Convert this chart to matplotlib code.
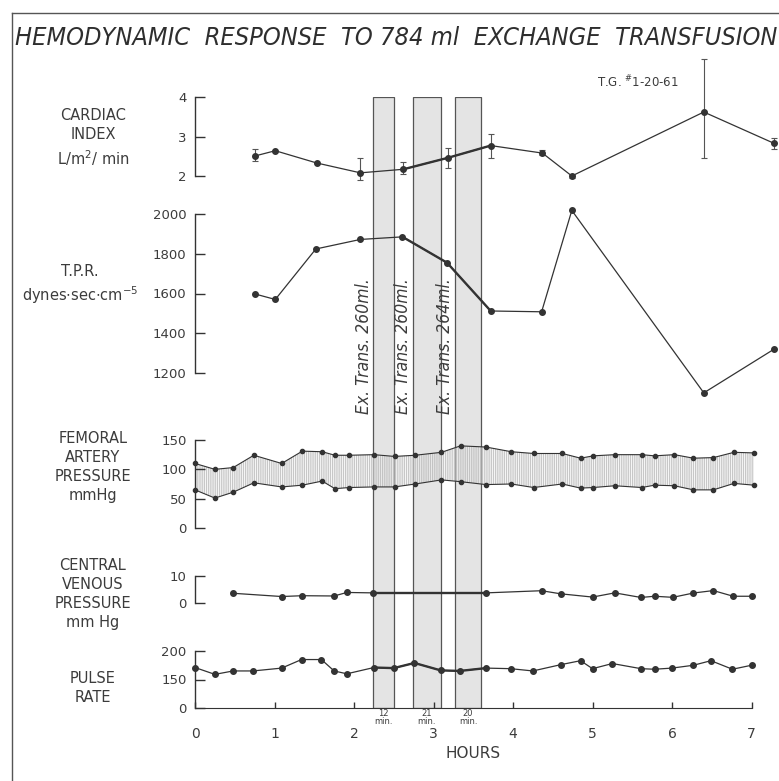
import numpy as np
from matplotlib import pyplot as plt
from matplotlib import font_manager
from matplotlib.lines import Line2D

W, H = 779, 781
AX_LEFT = 195        # px, left spine of every panel
INK = "#333333"
TXT = "#3c3c3c"

installed = {f.name for f in font_manager.fontManager.ttflist}
NARROW = "Liberation Sans Narrow" if "Liberation Sans Narrow" in installed else "DejaVu Sans"

# exchange periods (hours) and their durations
ex_start = [2.24, 2.74, 3.27]
ex_end = [2.50, 3.09, 3.60]
ex_labels = ["Ex. Trans. 260ml.", "Ex. Trans. 260ml.", "Ex. Trans. 264ml."]
ex_minutes = ["12\nmin.", "21\nmin.", "20\nmin."]

# cardiac index, L/m2/min
ci_hours = [0.76, 1.01, 1.53, 2.08, 2.62, 3.18, 3.72, 4.37, 4.74, 6.40, 7.28]
ci_vals = [2.51, 2.64, 2.33, 2.08, 2.17, 2.46, 2.77, 2.58, 2.00, 3.62, 2.83]
ci_lo = [2.37, 2.64, 2.33, 1.91, 2.06, 2.19, 2.45, 2.52, 1.96, 2.46, 2.68]
ci_hi = [2.69, 2.64, 2.33, 2.46, 2.35, 2.71, 3.06, 2.65, 2.03, 4.95, 2.97]

# total peripheral resistance
tpr_hours = [0.76, 1.01, 1.52, 2.08, 2.61, 3.17, 3.72, 4.36, 4.74, 6.40, 7.28]
tpr_vals = [1597, 1570, 1824, 1872, 1885, 1755, 1512, 1508, 2018, 1100, 1319]

# femoral artery pressure, systolic / diastolic
fem_hours = [0, 0.25, 0.48, 0.74, 1.09, 1.35, 1.60, 1.76, 1.94, 2.25, 2.51, 2.77, 3.10, 3.34,
             3.66, 3.98, 4.26, 4.62, 4.85, 5.01, 5.28, 5.62, 5.78, 6.03, 6.27, 6.52, 6.78, 7.03]
fem_sys = [110, 100, 103, 124, 110, 131, 130, 124, 124, 125, 122, 124, 129, 140,
           138, 130, 127, 127, 119, 123, 125, 125, 123, 125, 119, 120, 129, 128]
fem_dia = [65, 51, 61, 77, 70, 73, 80, 67, 69, 70, 70, 75, 82, 79,
           74, 75, 69, 75, 68, 69, 72, 69, 73, 72, 65, 65, 76, 73]

# central venous pressure
cvp_hours = [0.48, 1.09, 1.35, 1.75, 1.91, 2.24, 3.66, 4.36, 4.60, 5.00, 5.28, 5.61, 5.78,
             6.01, 6.27, 6.52, 6.77, 7.00]
cvp_vals = [3.6, 2.4, 2.7, 2.6, 3.9, 3.75, 3.75, 4.55, 3.4, 2.2, 3.75, 2.05, 2.5,
            2.1, 3.7, 4.6, 2.5, 2.5]

# pulse rate
pulse_hours = [0, 0.25, 0.48, 0.73, 1.09, 1.34, 1.59, 1.75, 1.91, 2.25, 2.50, 2.76, 3.09, 3.33,
               3.66, 3.97, 4.25, 4.60, 4.85, 5.00, 5.25, 5.61, 5.78, 6.00, 6.27, 6.49, 6.76, 7.00]
pulse_vals = [171, 159, 165, 165, 170, 185, 185, 165, 160, 171, 170, 179, 166, 165,
              170, 169, 165, 176, 183, 169, 178, 169, 168, 170, 175, 183, 168, 175]

hour_ticks = [0, 1, 2, 3, 4, 5, 6, 7]
XMAX = (W - AX_LEFT) / 79.5


def px_axes(fig, top, bottom):
    # axes placed by pixel rows, spanning from the left spine to the right edge
    ax = fig.add_axes([AX_LEFT / W, 1 - bottom / H, (W - AX_LEFT) / W, (bottom - top) / H])
    ax.set_xlim(0, XMAX)
    ax.patch.set_alpha(0)
    return ax


def style_panel(ax, ylim, yticks):
    ax.set_ylim(*ylim)
    for side in ["top", "right", "bottom"]:
        ax.spines[side].set_visible(False)
    ax.spines["left"].set_bounds(ylim[0], ylim[1])
    ax.spines["left"].set_color(INK)
    ax.spines["left"].set_linewidth(1.0)
    ax.set_yticks(yticks)
    ax.tick_params(axis="y", direction="in", length=7, width=1.0, color=INK,
                   labelsize=9.5, labelcolor=TXT, pad=6)
    ax.set_xticks([])


def side_label(x, y, text):
    fig.text(x / W, 1 - y / H, text, ha="center", va="center", fontsize=10.5,
             color=TXT, linespacing=1.35)


def draw_series(ax, x, y, ms=4):
    ax.plot(x, y, "-o", color=INK, lw=0.9, ms=ms, clip_on=False, zorder=3)
    x = np.asarray(x)
    y = np.asarray(y)
    bold = (x >= ex_start[0] - 0.05) & (x <= ex_end[-1] + 0.15)
    ax.plot(x[bold], y[bold], "-", color=INK, lw=1.7, clip_on=False, zorder=3)


fig = plt.figure(figsize=(W / 100, H / 100), dpi=100)
fig.patch.set_facecolor("white")

# exchange transfusion bars run through every panel
ax_bars = px_axes(fig, 97, 708)
ax_bars.set_ylim(0, 1)
ax_bars.axis("off")
for s, e, lab in zip(ex_start, ex_end, ex_labels):
    ax_bars.axvspan(s, e, facecolor="#e4e4e4", edgecolor="#555555", lw=0.9)
    ax_bars.text(s - 0.12, 0.592, lab, rotation=90, ha="center", va="center",
                 fontsize=12.5, style="italic", family=NARROW, fontstretch="condensed",
                 color=TXT)

# cardiac index
ax_ci = px_axes(fig, 97, 176)
style_panel(ax_ci, (2, 4), [2, 3, 4])
ci_err = [np.subtract(ci_vals, ci_lo), np.subtract(ci_hi, ci_vals)]
ax_ci.errorbar(ci_hours, ci_vals, yerr=ci_err, fmt="none", ecolor="#555555",
               elinewidth=0.8, capsize=2.5, capthick=0.8, clip_on=False)
draw_series(ax_ci, ci_hours, ci_vals)

# total peripheral resistance
ax_tpr = px_axes(fig, 214, 373)
style_panel(ax_tpr, (1200, 2000), [1200, 1400, 1600, 1800, 2000])
draw_series(ax_tpr, tpr_hours, tpr_vals)

# femoral artery pressure band
plt.rcParams["hatch.linewidth"] = 0.5
ax_fem = px_axes(fig, 440, 528)
style_panel(ax_fem, (0, 150), [0, 50, 100, 150])
ax_fem.fill_between(fem_hours, fem_dia, fem_sys, facecolor=(0.93, 0.93, 0.93, 0.5),
                    edgecolor="#b4b4b4", hatch="|" * 9, linewidth=0)
ax_fem.plot(fem_hours, fem_sys, "-o", color=INK, lw=0.8, ms=3, clip_on=False)
ax_fem.plot(fem_hours, fem_dia, "-o", color=INK, lw=0.8, ms=3, clip_on=False)

# central venous pressure
ax_cvp = px_axes(fig, 576, 603)
style_panel(ax_cvp, (0, 10), [0, 10])
draw_series(ax_cvp, cvp_hours, cvp_vals)


# pulse rate: the 0-150 stretch is squeezed into the same height as 150-200
def pulse_fwd(v):
    v = np.asarray(v, dtype=float)
    return np.where(v >= 150, 1 + (v - 150) / 50, v / 150)


def pulse_inv(u):
    u = np.asarray(u, dtype=float)
    return np.where(u >= 1, 150 + (u - 1) * 50, u * 150)


ax_pr = px_axes(fig, 651, 708)
ax_pr.set_yscale("function", functions=(pulse_fwd, pulse_inv))
style_panel(ax_pr, (0, 200), [0, 150, 200])
ax_pr.yaxis.set_minor_locator(plt.NullLocator())
draw_series(ax_pr, pulse_hours, pulse_vals)
ax_pr.spines["bottom"].set_visible(True)
ax_pr.spines["bottom"].set_bounds(0, 7)
ax_pr.spines["bottom"].set_color(INK)
ax_pr.set_xticks(hour_ticks)
ax_pr.tick_params(axis="x", direction="in", length=4, width=1.0, color=INK,
                  labelsize=10, labelcolor=TXT, pad=14)
for s, e, m in zip(ex_start, ex_end, ex_minutes):
    ax_pr.annotate(m, xy=((s + e) / 2, 0), xycoords=("data", "axes fraction"),
                   xytext=(0, -1), textcoords="offset points", ha="center", va="top",
                   fontsize=6, color=TXT, linespacing=0.85)
ax_pr.annotate("HOURS", xy=(3.5, 0), xycoords=("data", "axes fraction"),
               xytext=(0, -27), textcoords="offset points", ha="center", va="top",
               fontsize=11, color=TXT)

side_label(93, 138, "CARDIAC\nINDEX\nL/m$^2$/ min")
side_label(80, 285, "T.P.R.\ndynes$\\cdot$sec$\\cdot$cm$^{-5}$")
side_label(93, 467, "FEMORAL\nARTERY\nPRESSURE\nmmHg")
side_label(93, 594, "CENTRAL\nVENOUS\nPRESSURE\nmm Hg")
side_label(93, 688, "PULSE\nRATE")

title = fig.text(15 / W, 1 - 38 / H,
                 "HEMODYNAMIC  RESPONSE  TO 784 ml  EXCHANGE  TRANSFUSION",
                 ha="left", va="center", fontsize=19, style="italic", family=NARROW,
                 fontstretch="condensed", color="#2e2e2e")
# shrink the title until it fits the 760 px line
renderer = fig.canvas.get_renderer()
width = title.get_window_extent(renderer).width
if width > 760:
    title.set_fontsize(19 * 760 / width)

fig.text(597 / W, 1 - 82 / H, "T.G. $^{\\#}$1-20-61", ha="left", va="center",
         fontsize=8.5, color=TXT)

# page frame
fig.add_artist(Line2D([12 / W, 12 / W], [0, 1 - 13 / H], transform=fig.transFigure,
                      color="#555555", lw=1))
fig.add_artist(Line2D([12 / W, 1], [1 - 13 / H, 1 - 13 / H], transform=fig.transFigure,
                      color="#555555", lw=1))

fig.savefig("out.png", dpi=100)
